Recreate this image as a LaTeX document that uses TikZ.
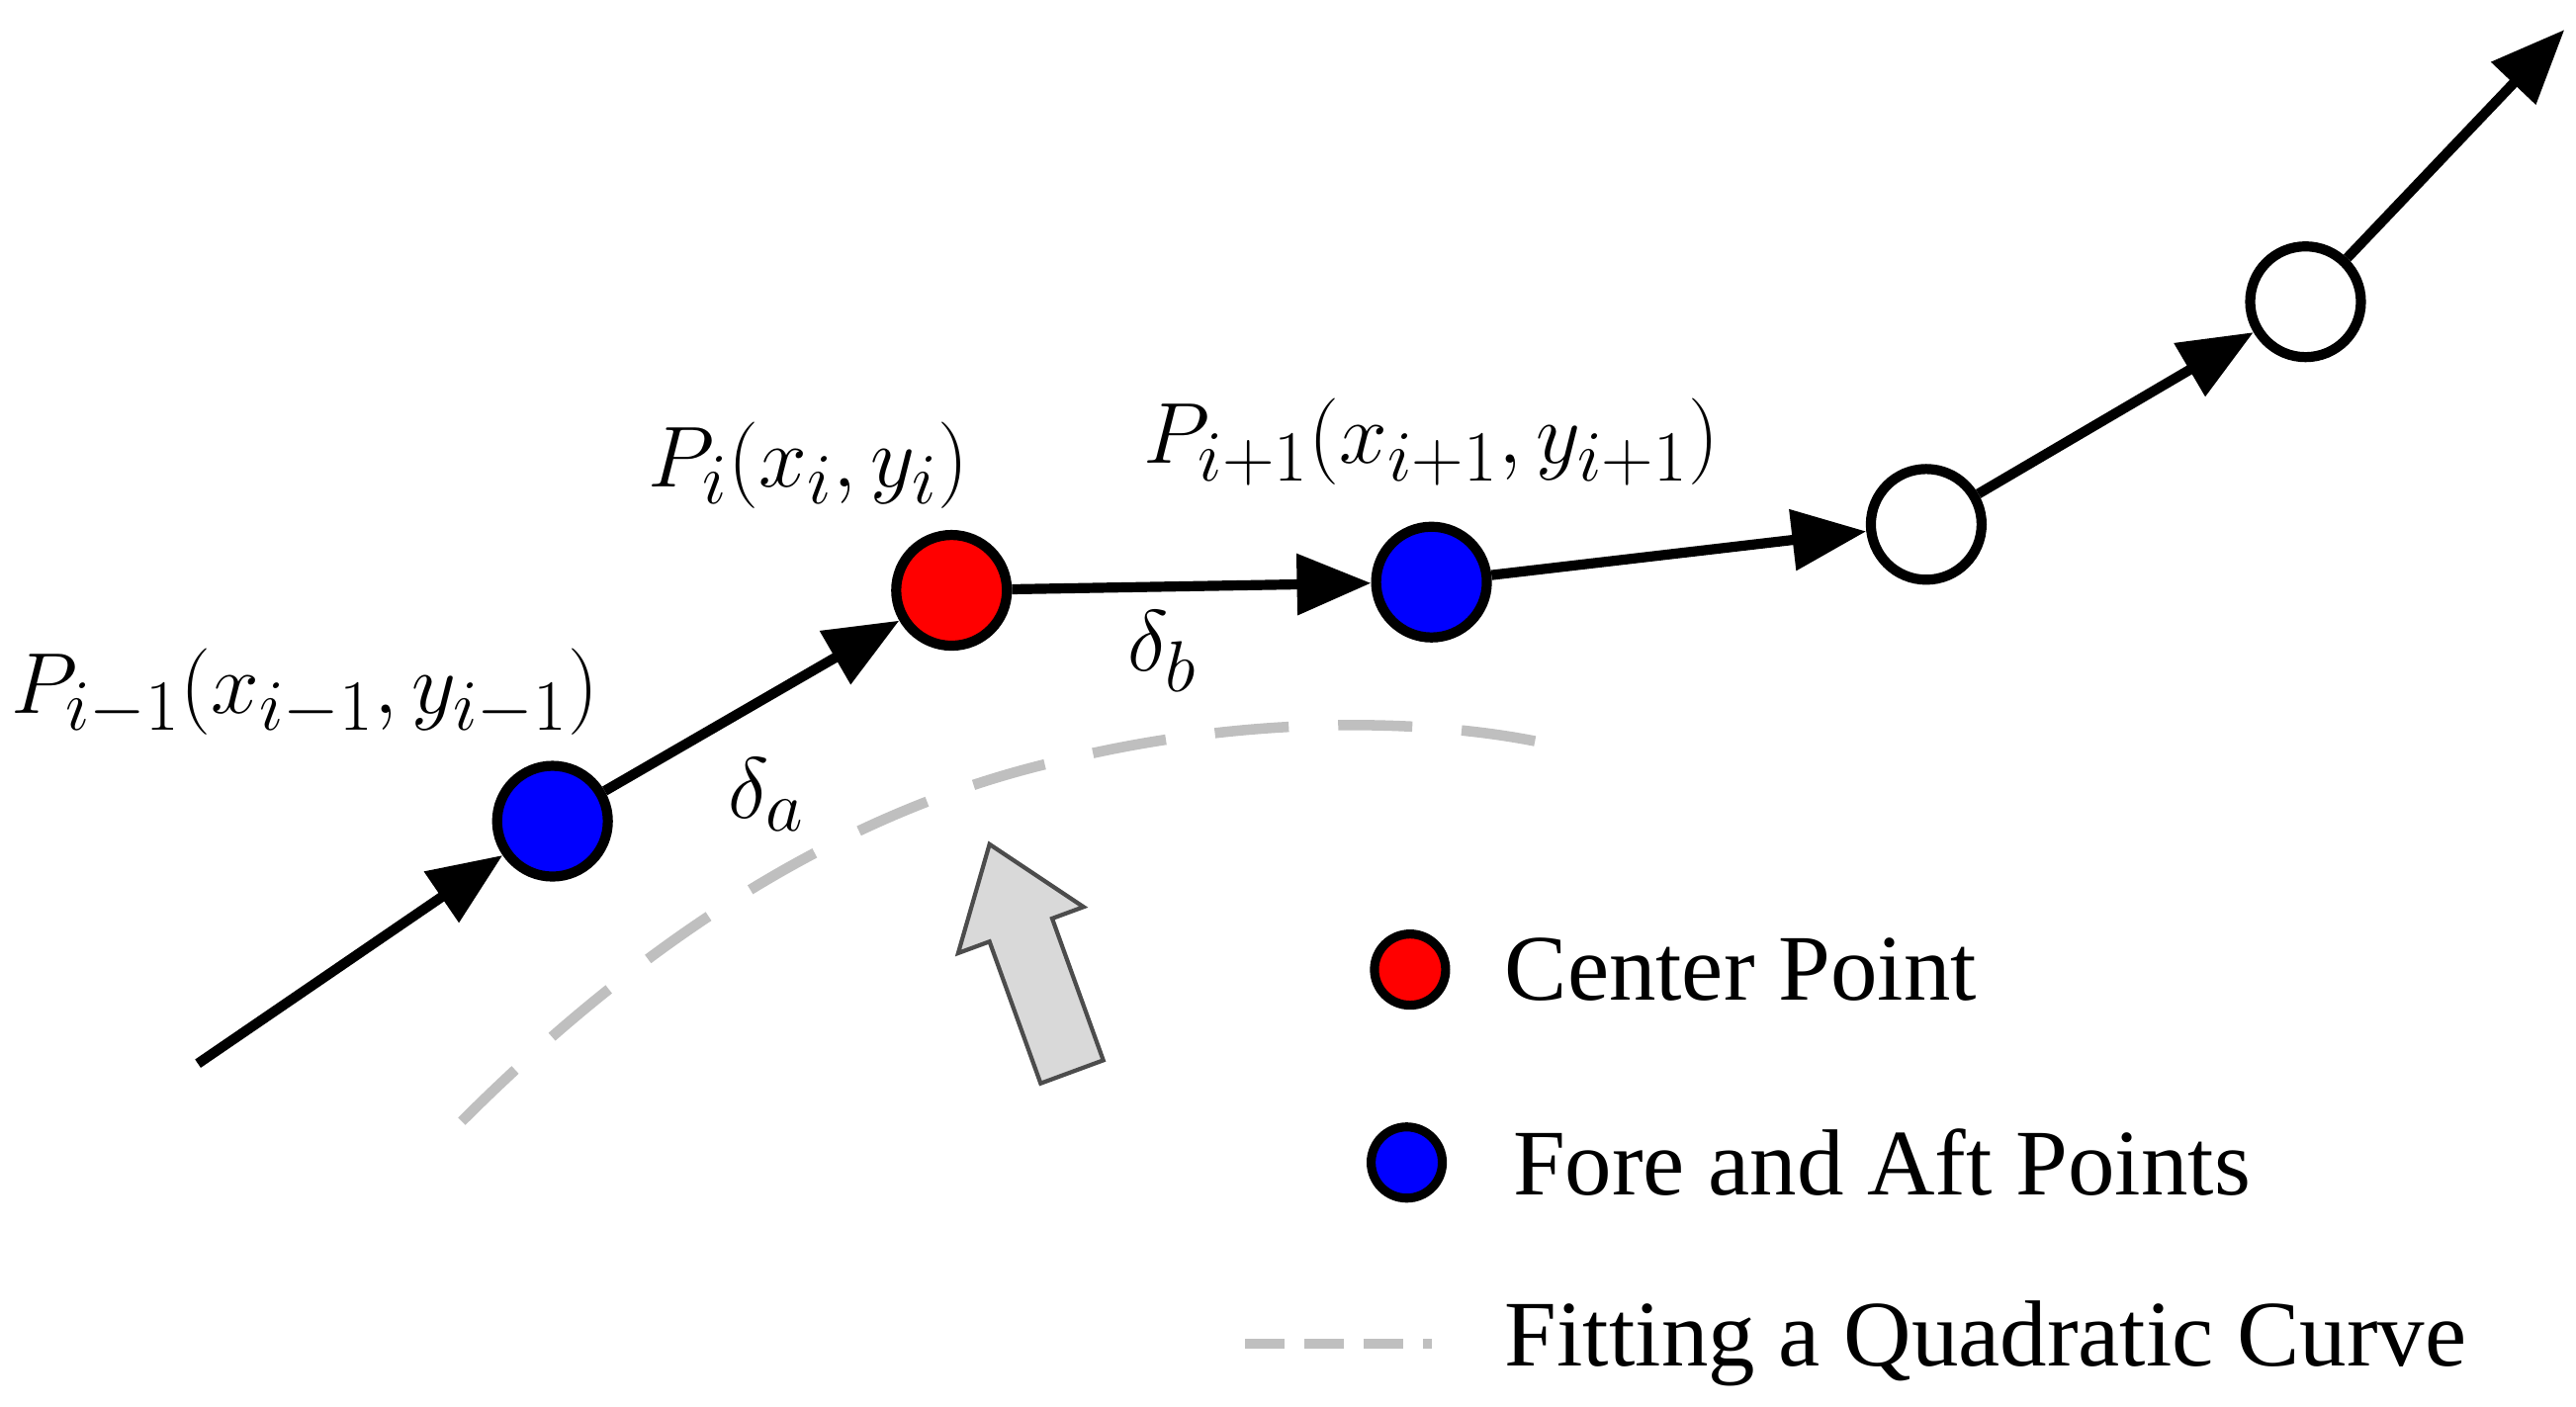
\documentclass[tikz,border=0pt]{standalone}
\usetikzlibrary{arrows.meta}
\usepackage{fontspec}
\setmainfont{Liberation Serif}
\begin{document}
\begin{tikzpicture}[x=0.016677cm,y=-0.016677cm,
  pt/.style={circle,draw=black,line width=2.9pt,minimum size=1.12cm,inner sep=0pt},
  lpt/.style={circle,draw=black,line width=2.6pt,minimum size=0.72cm,inner sep=0pt},
  con/.style={line width=2.9pt,-{Triangle[length=0.75cm,width=0.6cm]}},
  fit/.style={line width=3pt,color=black!25,dash pattern=on 0.75cm off 0.5cm},
  lbl/.style={font=\fontsize{30}{36}\selectfont},
  leg/.style={font=\fontsize{27}{32}\selectfont,anchor=west}]
\useasboundingbox (0,0) rectangle (1562,853);
\draw[fit] (280,680) .. controls (400,560) and (520,490) .. (640,462) .. controls (760,432) and (880,435) .. (955,455);
\draw[line width=1.2pt,draw=black!70,fill=black!15] (669,643) -- (638,557) -- (657,550) -- (600,512) -- (581,578) -- (600,571) -- (631,657) -- cycle;
\coordinate (s) at (120,645);
\node[pt,fill=blue] (b1) at (335,498) {};
\node[pt,fill=red] (r) at (577,358) {};
\node[pt,fill=blue] (b2) at (868,353) {};
\node[pt,fill=white] (w1) at (1168,318) {};
\node[pt,fill=white] (w2) at (1398,183) {};
\coordinate (e) at (1555,18);
\draw[con] (s) -- (b1);
\draw[con] (b1) -- (r);
\draw[con] (r) -- (b2);
\draw[con] (b2) -- (w1);
\draw[con] (w1) -- (w2);
\draw[con] (w2) -- (e);
\node[lbl] (l1) at (185,420) {$P_{i-1}(x_{i-1},y_{i-1})$};
\node[lbl] (l2) at (490,282) {$P_{i}(x_{i},y_{i})$};
\node[lbl] (l3) at (868,268) {$P_{i+1}(x_{i+1},y_{i+1})$};
\node[lbl] (da) at (465,482) {$\delta_a$};
\node[lbl] (db) at (705,395) {$\delta_b$};
\node[lpt,fill=red] (lr) at (855,588) {};
\node[leg] (tr) at (905,588) {Center Point};
\node[lpt,fill=blue] (lb) at (853,705) {};
\node[leg] (tb) at (910,705) {Fore and Aft Points};
\coordinate (f1) at (755,815);
\coordinate (f2) at (868,815);
\draw[line width=3pt,color=black!25,dash pattern=on 0.4cm off 0.2cm] (f1) -- (f2);
\node[leg] (tf) at (905,815) {Fitting a Quadratic Curve};
\end{tikzpicture}
\end{document}
